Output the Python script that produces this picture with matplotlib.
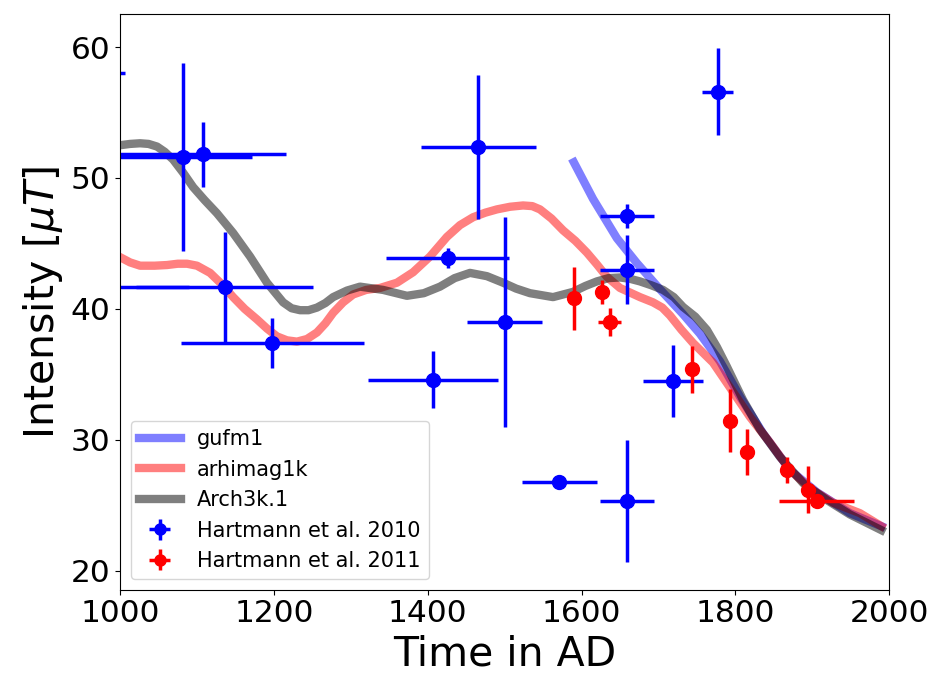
import matplotlib.pyplot as plt

# model curves
gufm1_t = [1590, 1615, 1646, 1672, 1702, 1732, 1754, 1780, 1806, 1836, 1871, 1906, 1949, 1990]
gufm1_f = [51.2, 48.4, 45.4, 43.5, 41.5, 39.6, 38.1, 36.0, 33.3, 30.5, 27.7, 26.0, 24.4, 23.4]

arhimag_t = [1000, 1013, 1026, 1045, 1061, 1075, 1087, 1100, 1117, 1132, 1147, 1162, 1178,
             1191, 1204, 1217, 1230, 1243, 1256, 1267, 1277, 1290, 1303, 1320, 1338, 1360,
             1381, 1403, 1425, 1442, 1459, 1475, 1490, 1507, 1524, 1536, 1546, 1561, 1576,
             1592, 1607, 1620, 1633, 1650, 1676, 1693, 1705, 1715, 1730, 1745, 1771, 1793,
             1819, 1845, 1871, 1897, 1927, 1962, 1990]
arhimag_f = [43.95, 43.55, 43.3, 43.3, 43.35, 43.45, 43.45, 43.3, 42.75, 41.9, 40.9, 40.0,
             39.2, 38.5, 37.9, 37.6, 37.5, 37.7, 38.2, 38.9, 39.7, 40.5, 41.1, 41.45, 41.6,
             42.0, 42.8, 44.0, 45.5, 46.4, 47.0, 47.35, 47.6, 47.8, 47.9, 47.85, 47.6, 46.9,
             46.0, 45.2, 44.3, 43.4, 42.45, 41.6, 40.9, 40.5, 40.1, 39.5, 38.4, 37.4, 35.9,
             34.0, 31.75, 29.8, 27.7, 26.3, 25.2, 24.4, 23.4]

arch3k_t = [1000, 1013, 1026, 1037, 1048, 1058, 1069, 1082, 1095, 1110, 1126, 1147, 1169,
            1191, 1212, 1223, 1234, 1245, 1256, 1267, 1277, 1295, 1312, 1342, 1373, 1395,
            1416, 1435, 1455, 1477, 1498, 1515, 1533, 1563, 1589, 1605, 1620, 1635, 1650,
            1663, 1676, 1691, 1706, 1720, 1732, 1748, 1763, 1776, 1789, 1810, 1832, 1858,
            1888, 1919, 1949, 1990]
arch3k_f = [52.5, 52.6, 52.65, 52.6, 52.4, 52.0, 51.4, 50.4, 49.3, 48.3, 47.3, 45.8, 44.0,
            42.0, 40.5, 40.05, 39.9, 39.9, 40.1, 40.45, 40.9, 41.4, 41.7, 41.45, 41.0, 41.2,
            41.7, 42.35, 42.75, 42.5, 42.0, 41.55, 41.2, 40.9, 41.3, 41.75, 42.1, 42.35, 42.4,
            42.3, 42.1, 41.8, 41.45, 40.9, 40.15, 39.4, 38.4, 37.1, 35.6, 33.05, 30.8, 28.7,
            26.7, 25.4, 24.3, 23.1]

# Hartmann et al. 2010
h10_t = [940, 950, 1082, 1108, 1136, 1198, 1407, 1426, 1466, 1500, 1571, 1659, 1659, 1659, 1719, 1777]
h10_f = [58.0, 41.7, 51.6, 51.8, 41.7, 37.4, 34.6, 43.9, 52.4, 39.0, 26.8, 47.1, 43.0, 25.3, 34.5, 56.6]
h10_terr = [66, 140, 90, 108, 115, 119, 84, 80, 75, 49, 49, 35, 35, 35, 39, 20]
h10_ferr = [0, 0, 7.2, 2.5, 4.2, 1.9, 2.2, 0.75, 5.5, 8.0, 0, 0.9, 2.65, 4.65, 2.75, 3.3]

# Hartmann et al. 2011
h11_t = [1590, 1627, 1637, 1744, 1793, 1815, 1867, 1895, 1906]
h11_f = [40.8, 41.3, 39.0, 35.4, 31.45, 29.1, 27.7, 26.2, 25.3]
h11_terr = [0, 0, 15, 0, 0, 0, 0, 0, 49]
h11_ferr = [2.4, 0.9, 1.1, 1.8, 2.4, 1.75, 1.0, 1.8, 0]

fig = plt.figure(figsize=(9.31, 6.81), dpi=100)
ax = fig.add_axes([0.129, 0.134, 0.826, 0.845])

ax.plot(gufm1_t, gufm1_f, color='b', alpha=0.5, lw=6, solid_joinstyle='round', label='gufm1')
ax.plot(arhimag_t, arhimag_f, color='r', alpha=0.5, lw=6, solid_joinstyle='round', label='arhimag1k')
ax.plot(arch3k_t, arch3k_f, color='k', alpha=0.5, lw=6, solid_joinstyle='round', label='Arch3k.1')

ax.errorbar(h10_t, h10_f, xerr=h10_terr, yerr=h10_ferr, fmt='o', color='b',
            ms=10, elinewidth=2.5, label='Hartmann et al. 2010')
ax.errorbar(h11_t, h11_f, xerr=h11_terr, yerr=h11_ferr, fmt='o', color='r',
            ms=10, elinewidth=2.5, label='Hartmann et al. 2011')

ax.set_xlim(1000, 2000)
ax.set_ylim(18.55, 62.5)
ax.set_xticks([1000, 1200, 1400, 1600, 1800, 2000])
ax.set_yticks([20, 30, 40, 50, 60])
ax.tick_params(labelsize=22.5)
ax.set_xlabel('Time in AD', fontsize=29.5)
ax.set_ylabel(r'Intensity [$\mu T$]', fontsize=29.5)
ax.legend(loc='lower left', fontsize=15, markerscale=0.8)

fig.savefig('out.png', dpi=100)
